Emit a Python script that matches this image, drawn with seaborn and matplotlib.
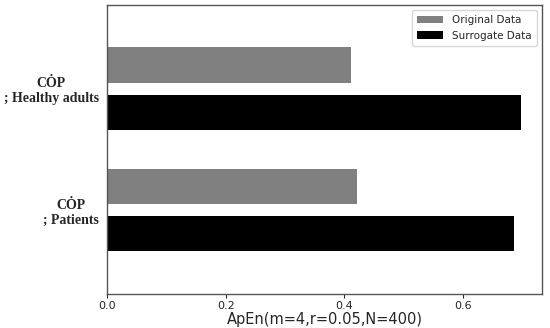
import matplotlib
matplotlib.use("Agg")
import matplotlib.pyplot as plt
import seaborn as sns
import pandas as pd

categories = ["CȮP\n; Healthy adults", "CȮP\n; Patients"]
original = [0.411, 0.421]
surrogate = [0.698, 0.686]
series = ["Original Data", "Surrogate Data"]

df = pd.DataFrame({
    "cat": categories * 2,
    "val": original + surrogate,
    "series": [series[0]] * 2 + [series[1]] * 2,
})

sns.set_style("white")
fig = plt.figure(figsize=(5.5, 3.28), dpi=100)
ax = fig.add_axes([0.195, 0.104, 0.79, 0.881])
sns.barplot(data=df, y="cat", x="val", hue="series", orient="h",
            palette=["#808080", "#000000"], width=0.78, gap=0.256,
            saturation=1, ax=ax, edgecolor="none")
ax.set_xlim(0, 0.733)
ax.set_ylim(1.69, -0.69)
ax.set_xticks([0.0, 0.2, 0.4, 0.6])
ax.set_xticklabels(["0.0", "0.2", "0.4", "0.6"], fontsize=8)
ax.set_xlabel("ApEn(m=4,r=0.05,N=400)", fontsize=10.5, labelpad=1)
ax.set_ylabel("")
ax.tick_params(axis="x", length=3, width=0.8, bottom=True, pad=2)
ax.tick_params(axis="y", length=0, pad=6)
for lab in ax.get_yticklabels():
    lab.set_family(["Liberation Serif", "DejaVu Serif"])
    lab.set_fontweight("bold")
    lab.set_fontsize(10)
    lab.set_multialignment("center")
for s in ax.spines.values():
    s.set_color("#555555")
    s.set_linewidth(1.0)
leg = ax.legend(loc="upper right", fontsize=7.5, frameon=True, handlelength=2.5,
                borderpad=0.5)
leg.set_title(None)
fig.savefig("out.png", dpi=100)
